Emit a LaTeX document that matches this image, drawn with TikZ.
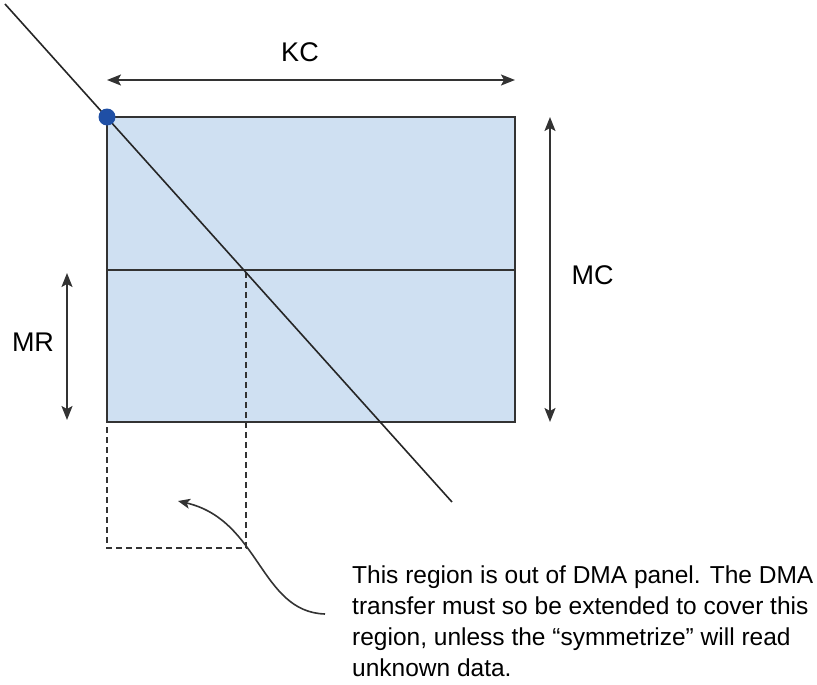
\documentclass[tikz,border=0pt]{standalone}
\usepackage{fontspec}
\setmainfont{Liberation Sans}
\usetikzlibrary{arrows.meta}
\definecolor{panelblue}{HTML}{CFE0F2}
\definecolor{dotblue}{HTML}{1F4FA5}
\definecolor{edge}{HTML}{333333}
\tikzset{
  dim/.style={line width=1.6pt, edge, {Stealth[length=14pt,width=11pt,inset=3pt]}-{Stealth[length=14pt,width=11pt,inset=3pt]}},
  lbl/.style={font=\fontsize{27}{30}\selectfont},
  guide/.style={line width=1.3pt, edge, dash pattern=on 6pt off 4pt}
}
\begin{document}
\begin{tikzpicture}[x=1pt,y=-1pt]
  \useasboundingbox (0,0) rectangle (817,685);
  % panel corners
  \coordinate (tl) at (107,117);
  \coordinate (br) at (515,422);
  \coordinate (ml) at (107,270);
  \coordinate (mr) at (515,270);
  \coordinate (cut) at (246,270);
  \coordinate (bl2) at (107,548);
  \coordinate (br2) at (246,548);
  \draw[fill=panelblue, draw=edge, line width=1.6pt] (tl) rectangle (br);
  \draw[line width=1.6pt, edge] (ml) -- (mr);
  % out of panel region
  \draw[guide] (tl) -- (bl2) -- (br2) -- (cut);
  % diagonal
  \coordinate (d0) at (5,4);
  \coordinate (d1) at (452,502);
  \draw[line width=1.6pt, black!85] (d0) -- (d1);
  \fill[dotblue] (tl) circle [radius=8.5];
  % dimensions
  \coordinate (kca) at (107,80);
  \coordinate (kcb) at (515,80);
  \draw[dim] (kca) -- (kcb);
  \node[lbl] (kc) at (300,52) {KC};
  \coordinate (mca) at (550,117);
  \coordinate (mcb) at (550,422);
  \draw[dim] (mca) -- (mcb);
  \node[lbl, anchor=west] (mc) at (568,275) {MC};
  \coordinate (mra) at (67,273);
  \coordinate (mrb) at (67,420);
  \draw[dim] (mra) -- (mrb);
  \node[lbl] (mrl) at (33,342) {MR};
  % note
  \node[anchor=north west, align=left, inner sep=0pt, font=\fontsize{24.5}{31}\selectfont] (note) at (352,566)
    {This region is out of DMA panel. The DMA\\transfer must so be extended to cover this\\region, unless the “symmetrize” will read\\unknown data.};
  \coordinate (tail) at (325,614);
  \coordinate (head) at (178,501);
  \draw[line width=1.6pt, edge, -{Stealth[length=12pt,width=10pt,inset=3pt]}] (tail) .. controls (260,612) and (260,520) .. (head);
\end{tikzpicture}
\end{document}
